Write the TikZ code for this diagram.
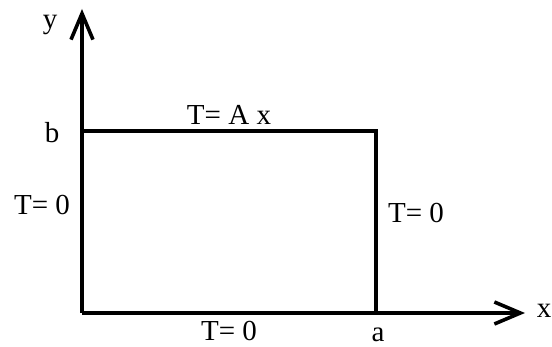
\documentclass[tikz,border=0pt]{standalone}
\usepackage{fontspec}
\setmainfont{Liberation Serif}
\usetikzlibrary{arrows.meta}
\begin{document}
\begin{tikzpicture}[x=1pt,y=1pt,
  lbl/.style={font=\fontsize{29}{32}\selectfont, inner sep=0pt},
  edge/.style={line width=3.2pt},
  axis/.style={line width=3.2pt, -{Straight Barb[length=26pt,width=22pt,line width=3.6pt]}}]
\useasboundingbox (0,0) rectangle (552,347);
\coordinate (O) at (82,34);
\coordinate (ytop) at (82,338);
\coordinate (xend) at (525,34);
\coordinate (TL) at (82,216);
\coordinate (TR) at (376,216);
\coordinate (BR) at (376,34);
\draw[axis] (O) -- (ytop);
\draw[axis] (O) -- (xend);
\draw[edge] (TL) -- (TR) -- (BR);
\node[lbl] (ly) at (50,322) {y};
\node[lbl] (lb) at (52,214) {b};
\node[lbl] (ltop) at (229,232) {T= A x};
\node[lbl] (lleft) at (42,142) {T= 0};
\node[lbl] (lright) at (416,134) {T= 0};
\node[lbl] (lbot) at (229,16) {T= 0};
\node[lbl] (la) at (378,12) {a};
\node[lbl] (lx) at (544,36) {x};
\end{tikzpicture}
\end{document}
